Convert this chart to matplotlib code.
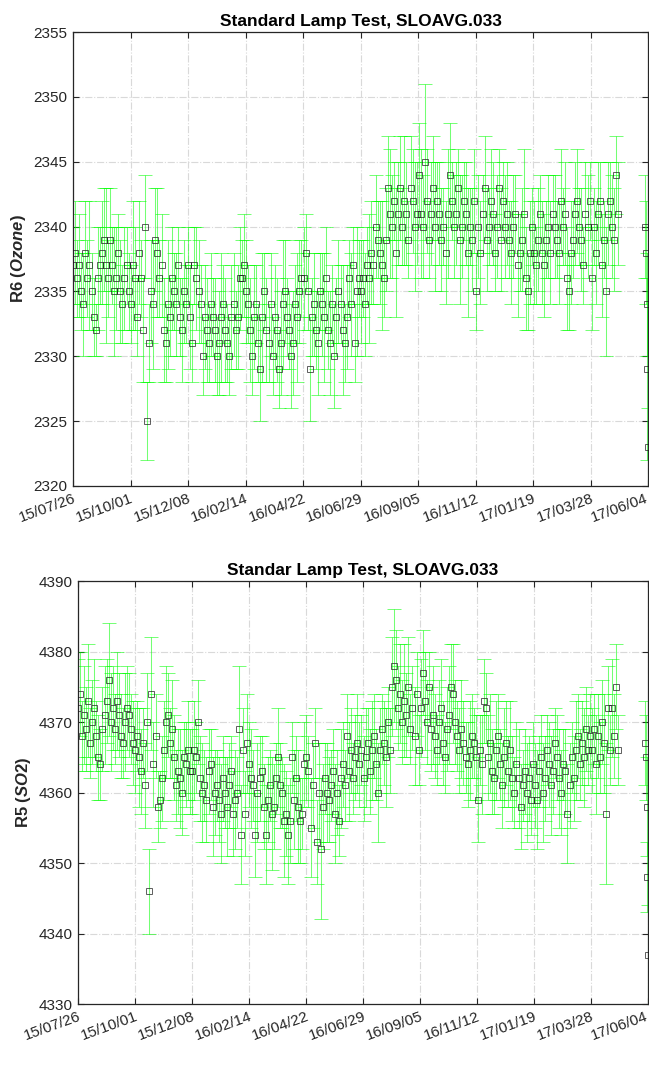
import numpy as np
import matplotlib
matplotlib.use("Agg")
import matplotlib.pyplot as plt
import matplotlib.dates as mdates
import matplotlib.transforms as mtransforms
from datetime import datetime

plt.rcParams['font.family'] = ['Liberation Sans', 'DejaVu Sans']
plt.rcParams['mathtext.fontset'] = 'custom'
plt.rcParams['mathtext.it'] = 'Liberation Sans:italic:bold'
plt.rcParams['mathtext.rm'] = 'Liberation Sans:bold'

# ---------- data ----------
START = datetime(2015, 7, 26)
END = datetime(2017, 6, 4)
MAIN_END = datetime(2017, 4, 30)

# R6 (ozone), one row per x-tick interval
r6_values = (
    [2337, 2338, 2336, 2337, 2335, 2334, 2338, 2336, 2337, 2335, 2333, 2332, 2336, 2337,
     2338, 2339, 2337, 2336, 2339, 2337, 2335, 2336, 2338, 2335, 2334, 2336, 2337, 2335] +
    [2334, 2337, 2336, 2333, 2338, 2336, 2332, 2340, 2325, 2331, 2335, 2334, 2339, 2338,
     2336, 2337, 2332, 2331, 2334, 2333, 2336, 2335, 2334, 2337, 2333, 2332, 2335, 2334] +
    [2337, 2333, 2331, 2337, 2336, 2335, 2334, 2330, 2333, 2332, 2331, 2334, 2333, 2332,
     2330, 2331, 2333, 2334, 2332, 2331, 2330, 2333, 2334, 2332, 2333, 2336, 2336, 2337] +
    [2335, 2334, 2332, 2330, 2333, 2334, 2331, 2329, 2333, 2335, 2332, 2331, 2334, 2330,
     2333, 2332, 2329, 2331, 2334, 2335, 2333, 2332, 2330, 2331, 2334, 2333, 2335, 2336] +
    [2336, 2338, 2335, 2329, 2333, 2334, 2332, 2331, 2335, 2334, 2333, 2336, 2332, 2331,
     2334, 2330, 2333, 2335, 2334, 2332, 2331, 2333, 2336, 2334, 2337, 2331, 2335, 2336] +
    [2335, 2336, 2334, 2337, 2336, 2338, 2337, 2340, 2339, 2338, 2337, 2336, 2339, 2343,
     2341, 2340, 2342, 2338, 2341, 2343, 2340, 2342, 2341, 2339, 2343, 2342, 2340, 2341] +
    [2344, 2341, 2340, 2345, 2342, 2339, 2341, 2343, 2340, 2342, 2341, 2339, 2340, 2338,
     2341, 2344, 2342, 2340, 2341, 2343, 2339, 2340, 2342, 2341, 2338, 2340, 2339, 2342] +
    [2335, 2340, 2338, 2341, 2343, 2339, 2340, 2342, 2341, 2338, 2340, 2343, 2339, 2342,
     2340, 2341, 2339, 2338, 2340, 2341, 2337, 2338, 2339, 2341, 2336, 2335, 2338, 2340] +
    [2338, 2337, 2339, 2341, 2338, 2337, 2339, 2340, 2338, 2341, 2340, 2339, 2338, 2342,
     2340, 2341, 2336, 2335, 2338, 2339, 2341, 2342, 2340, 2339, 2337, 2341, 2340, 2342] +
    [2336, 2340, 2338, 2341, 2342, 2337, 2339, 2335, 2341, 2342, 2340, 2339, 2344, 2341]
)
r6_errors = (
    [3, 4, 3, 4, 3, 4, 4, 3, 5, 3, 3, 2, 4, 3, 4, 4, 6, 3, 4, 3, 5, 4, 3, 4, 3, 4, 3, 3] +
    [3, 5, 4, 3, 4, 3, 4, 4, 3, 3, 4, 5, 4, 5, 3, 4, 4, 3, 5, 3, 4, 3, 4, 3, 3, 4, 4, 3] +
    [3, 4, 3, 3, 4, 4, 3, 3, 4, 4, 3, 4, 3, 4, 3, 4, 5, 3, 4, 3, 3, 4, 4, 3, 4, 4, 3, 4] +
    [4, 3, 4, 3, 4, 3, 3, 4, 5, 3, 4, 3, 4, 3, 4, 4, 3, 4, 5, 4, 3, 3, 4, 4, 3, 5, 4, 3] +
    [4, 3, 3, 4, 3, 4, 3, 4, 3, 4, 5, 4, 3, 4, 3, 4, 3, 4, 3, 5, 3, 4, 3, 4, 3, 3, 5, 3] +
    [4, 3, 4, 3, 5, 4, 3, 4, 3, 4, 5, 3, 4, 4, 5, 4, 3, 5, 4, 4, 3, 5, 4, 3, 4, 4, 5, 4] +
    [4, 5, 4, 6, 4, 3, 4, 4, 5, 3, 4, 4, 3, 4, 5, 4, 3, 4, 4, 3, 5, 4, 3, 4, 5, 3, 4, 4] +
    [3, 4, 4, 3, 4, 4, 3, 4, 4, 3, 4, 3, 4, 3, 4, 4, 3, 4, 4, 3, 4, 3, 4, 5, 4, 3, 4, 3] +
    [4, 3, 4, 3, 4, 4, 3, 4, 4, 3, 4, 3, 4, 4, 3, 4, 4, 3, 4, 3, 4, 4, 3, 4, 3, 4, 4, 3] +
    [4, 3, 4, 4, 3, 4, 3, 5, 4, 3, 4, 4, 3, 4]
)

# R5 (SO2)
r5_values = (
    [4372, 4374, 4368, 4371, 4369, 4373, 4367, 4370, 4372, 4368, 4365, 4364, 4369, 4371,
     4373, 4376, 4370, 4372, 4369, 4373, 4371, 4368, 4367, 4370, 4372, 4371, 4369, 4367] +
    [4366, 4368, 4365, 4363, 4367, 4361, 4370, 4346, 4374, 4364, 4368, 4358, 4359, 4362,
     4366, 4370, 4371, 4367, 4369, 4365, 4361, 4363, 4362, 4360, 4365, 4364, 4366, 4363] +
    [4363, 4366, 4365, 4370, 4362, 4360, 4361, 4359, 4363, 4364, 4358, 4360, 4361, 4359,
     4357, 4362, 4360, 4358, 4361, 4363, 4357, 4359, 4360, 4369, 4354, 4366, 4357, 4367] +
    [4364, 4362, 4361, 4354, 4360, 4362, 4363, 4358, 4354, 4359, 4361, 4357, 4358, 4362,
     4365, 4361, 4360, 4356, 4357, 4354, 4356, 4365, 4359, 4362, 4358, 4356, 4357, 4364] +
    [4365, 4363, 4355, 4361, 4367, 4353, 4360, 4352, 4358, 4362, 4360, 4359, 4361, 4363,
     4357, 4360, 4356, 4362, 4364, 4361, 4368, 4363, 4366, 4362, 4365, 4367, 4364, 4366] +
    [4362, 4365, 4367, 4363, 4366, 4368, 4364, 4360, 4366, 4369, 4367, 4365, 4370, 4366,
     4375, 4378, 4376, 4372, 4374, 4370, 4373, 4371, 4375, 4369, 4372, 4368, 4374, 4366] +
    [4372, 4377, 4373, 4370, 4375, 4369, 4371, 4368, 4366, 4370, 4372, 4367, 4365, 4369,
     4371, 4375, 4374, 4370, 4368, 4366, 4369, 4367, 4365, 4364, 4366, 4368, 4367, 4365] +
    [4359, 4366, 4364, 4373, 4372, 4365, 4367, 4363, 4362, 4366, 4368, 4364, 4361, 4365,
     4367, 4363, 4366, 4362, 4360, 4364, 4362, 4358, 4361, 4363, 4360, 4362, 4359, 4364] +
    [4361, 4359, 4363, 4365, 4360, 4362, 4366, 4364, 4361, 4363, 4367, 4365, 4362, 4360,
     4364, 4363, 4357, 4361, 4365, 4362, 4366, 4368, 4364, 4367, 4365, 4369, 4366, 4368] +
    [4366, 4369, 4364, 4368, 4365, 4370, 4367, 4357, 4372, 4366, 4372, 4368, 4375, 4366]
)
r5_errors = (
    [7, 6, 5, 7, 6, 8, 5, 6, 7, 5, 6, 5, 6, 7, 6, 8, 7, 6, 5, 7, 6, 6, 5, 7, 6, 6, 5, 6] +
    [6, 5, 7, 6, 5, 6, 7, 6, 8, 6, 6, 5, 4, 6, 7, 8, 6, 5, 7, 6, 5, 6, 7, 6, 5, 6, 7, 6] +
    [6, 7, 5, 6, 6, 7, 5, 6, 6, 5, 7, 6, 5, 6, 7, 6, 5, 7, 6, 5, 6, 7, 5, 9, 7, 6, 6, 7] +
    [6, 7, 5, 6, 7, 6, 5, 6, 7, 6, 5, 8, 6, 5, 7, 6, 5, 8, 6, 7, 6, 5, 7, 6, 8, 6, 5, 6] +
    [6, 5, 7, 6, 5, 6, 7, 10, 6, 5, 7, 6, 5, 6, 7, 6, 5, 7, 6, 5, 6, 7, 6, 5, 6, 7, 6, 5] +
    [6, 7, 5, 6, 7, 6, 5, 7, 6, 5, 6, 7, 5, 6, 7, 8, 7, 6, 7, 6, 8, 6, 7, 5, 6, 7, 6, 5] +
    [7, 6, 7, 6, 5, 6, 7, 6, 5, 6, 7, 6, 5, 6, 7, 6, 7, 6, 5, 6, 7, 6, 5, 6, 7, 6, 5, 6] +
    [6, 5, 7, 6, 5, 6, 7, 6, 5, 7, 6, 5, 6, 7, 6, 5, 7, 6, 5, 6, 7, 6, 5, 6, 7, 6, 5, 6] +
    [6, 7, 5, 6, 7, 6, 5, 6, 7, 6, 5, 6, 7, 6, 5, 6, 7, 6, 5, 6, 7, 6, 5, 6, 7, 6, 5, 6] +
    [6, 5, 7, 6, 5, 6, 7, 10, 6, 5, 7, 6, 6, 5]
)

# last few measurements, right at the end of the record
tail_dates = [datetime(2017, 6, 1), datetime(2017, 6, 2), datetime(2017, 6, 3),
              datetime(2017, 6, 3), datetime(2017, 6, 4)]
r6_tail = [2340, 2338, 2334, 2329, 2323]
r6_tail_err = [4, 4, 4, 7, 3]
r5_tail = [4367, 4365, 4358, 4348, 4337]
r5_tail_err = [6, 6, 7, 5, 7]

panels = [
    dict(values=r6_values, errors=r6_errors, tail=r6_tail, tail_err=r6_tail_err,
         title='Standard Lamp Test, SLOAVG.033', ylabel=r'R6 $\mathit{(Ozone)}$',
         ylim=(2320, 2355), yticks=range(2320, 2356, 5),
         rect=[0.1125, 0.5496, 0.886, 0.4207]),
    dict(values=r5_values, errors=r5_errors, tail=r5_tail, tail_err=r5_tail_err,
         title='Standar Lamp Test, SLOAVG.033', ylabel=r'R5 $\mathit{(SO2)}$',
         ylim=(4330, 4390), yticks=range(4330, 4391, 10),
         rect=[0.1202, 0.0695, 0.878, 0.392]),
]

# ---------- plot ----------
fig = plt.figure(figsize=(6.49, 10.79), dpi=100)
axis_col = (0.15, 0.15, 0.15)
x0, x1 = mdates.date2num(START), mdates.date2num(END)
xticks = np.linspace(x0, x1, 11)

for p in panels:
    ax = fig.add_axes(p['rect'])
    main_x = np.linspace(x0, mdates.date2num(MAIN_END), len(p['values']))
    xs = np.concatenate([main_x, mdates.date2num(tail_dates)])
    ys = np.array(p['values'] + p['tail'])
    es = np.array(p['errors'] + p['tail_err'])

    ax.errorbar(xs, ys, yerr=es, fmt='none', ecolor=(0.0, 1.0, 0.0),
                elinewidth=0.75, capsize=5, capthick=0.7, alpha=0.55, zorder=2)
    ax.plot(xs, ys, 's', mfc='none', mec=(0.1, 0.1, 0.1), ms=5, mew=0.7,
            alpha=0.7, zorder=3)

    ax.set_xlim(x0, x1)
    ax.set_ylim(*p['ylim'])
    ax.set_yticks(list(p['yticks']))
    ax.set_xticks(xticks)
    ax.set_xticklabels([mdates.num2date(t).strftime('%y/%m/%d') for t in xticks],
                       rotation=20, ha='right', rotation_mode='anchor')
    ax.tick_params(direction='in', top=True, right=True, length=4, width=0.8,
                   labelsize=11, colors=axis_col, labelcolor=axis_col, pad=4)
    # nudge the last date label so it stays inside the figure
    last = ax.get_xticklabels()[-1]
    last.set_transform(last.get_transform() +
                       mtransforms.ScaledTranslation(-3 / 100, 0, fig.dpi_scale_trans))
    ax.grid(True, linestyle='-.', color=(0.85, 0.85, 0.85), linewidth=0.8)
    ax.set_axisbelow(True)
    for s in ax.spines.values():
        s.set_color(axis_col)
        s.set_linewidth(0.9)
    ax.set_title(p['title'], fontsize=12.5, fontweight='bold', pad=4)
    ax.set_ylabel(p['ylabel'], fontsize=12, fontweight='bold', color=axis_col)

fig.savefig('out.png', dpi=100)
